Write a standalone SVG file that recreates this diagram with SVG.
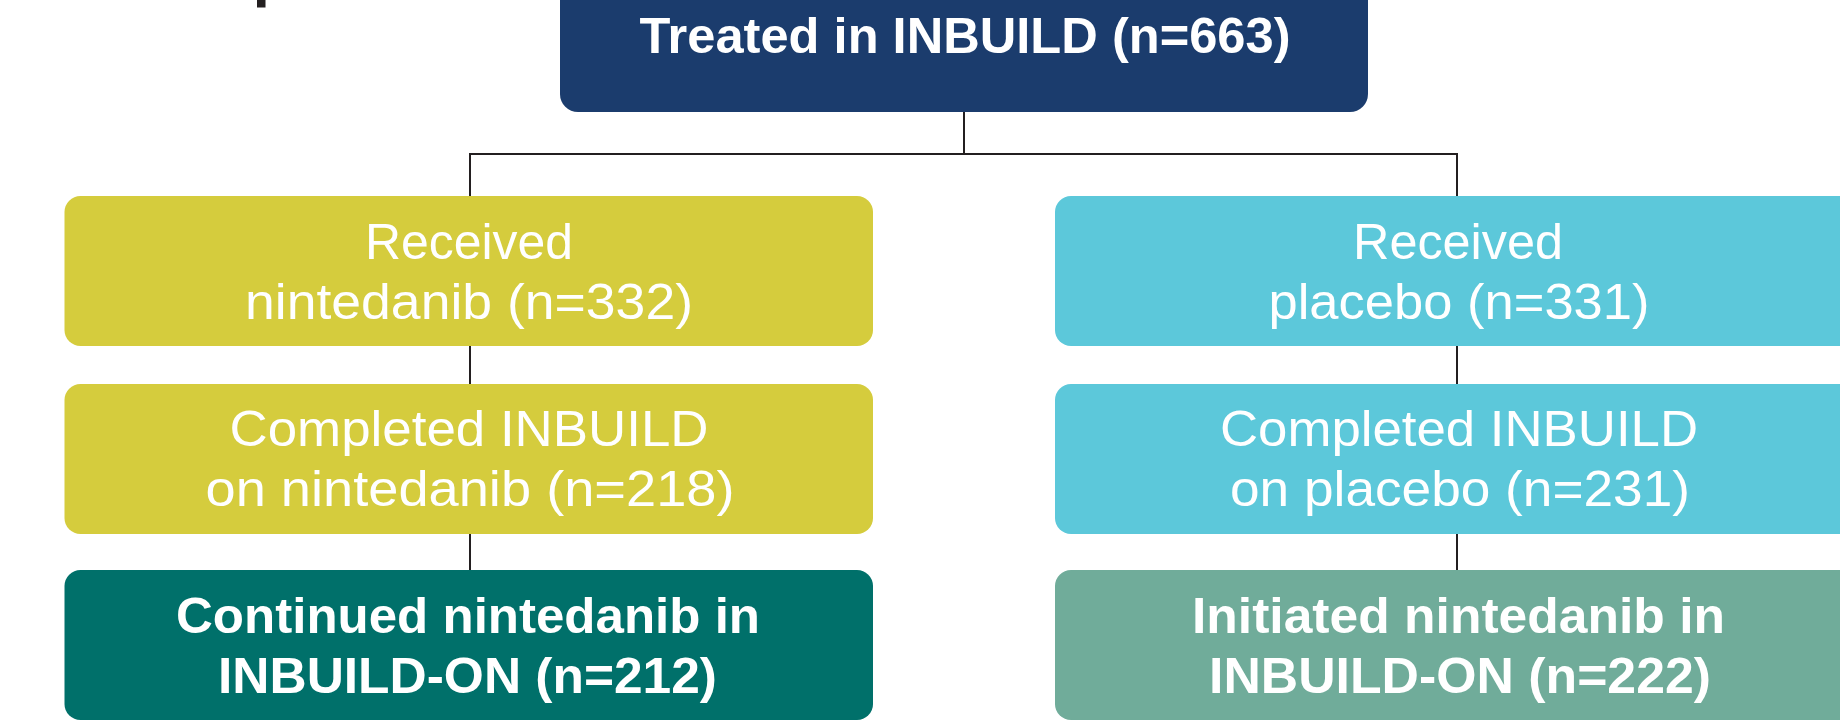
<svg xmlns="http://www.w3.org/2000/svg" width="1840" height="724" viewBox="0 0 1840 724">
<style>
.box{stroke:none}
.t{font-family:"Liberation Sans",Arial,sans-serif;font-size:50px;fill:#ffffff;text-anchor:middle}
.b{font-weight:bold}
.conn{stroke:#231f20;stroke-width:2;fill:none}
</style>
<rect width="1840" height="724" fill="#ffffff"/>
<rect x="257" y="0" width="8.5" height="7.5" fill="#231f20"/>
<g id="connectors">
<path class="conn" d="M964 112 V154 M470 196 V154 H1457 V196"/>
<path class="conn" d="M470 346 V384 M470 534 V570"/>
<path class="conn" d="M1457 346 V384 M1457 534 V570"/>
</g>
<g id="treated">
<rect class="box" x="560" y="-40" width="808" height="152" rx="18" fill="#1b3c6d"/>
<text class="t b" x="965" y="53" font-size="55" textLength="651" lengthAdjust="spacingAndGlyphs">Treated in INBUILD (n=663)</text>
</g>
<g id="received-nintedanib">
<rect class="box" x="64.5" y="196" width="808.5" height="150" rx="16" fill="#d5cc3d"/>
<text class="t" x="469" y="259" textLength="208" lengthAdjust="spacingAndGlyphs">Received</text>
<text class="t" x="469" y="319" textLength="448" lengthAdjust="spacingAndGlyphs">nintedanib (n=332)</text>
</g>
<g id="completed-nintedanib">
<rect class="box" x="64.5" y="384" width="808.5" height="150" rx="16" fill="#d5cc3d"/>
<text class="t" x="469" y="446" textLength="479" lengthAdjust="spacingAndGlyphs">Completed INBUILD</text>
<text class="t" x="470" y="506" textLength="529" lengthAdjust="spacingAndGlyphs">on nintedanib (n=218)</text>
</g>
<g id="continued-nintedanib">
<rect class="box" x="64.5" y="570" width="808.5" height="150" rx="16" fill="#00706a"/>
<text class="t b" x="468" y="633" textLength="584" lengthAdjust="spacingAndGlyphs">Continued nintedanib in</text>
<text class="t b" x="467.5" y="693" textLength="499" lengthAdjust="spacingAndGlyphs">INBUILD-ON (n=212)</text>
</g>
<g id="received-placebo">
<rect class="box" x="1055" y="196" width="808" height="150" rx="16" fill="#5cc8da"/>
<text class="t" x="1458" y="259" textLength="210" lengthAdjust="spacingAndGlyphs">Received</text>
<text class="t" x="1459" y="319" textLength="381" lengthAdjust="spacingAndGlyphs">placebo (n=331)</text>
</g>
<g id="completed-placebo">
<rect class="box" x="1055" y="384" width="808" height="150" rx="16" fill="#5cc8da"/>
<text class="t" x="1459" y="446" textLength="478" lengthAdjust="spacingAndGlyphs">Completed INBUILD</text>
<text class="t" x="1460" y="506" textLength="460" lengthAdjust="spacingAndGlyphs">on placebo (n=231)</text>
</g>
<g id="initiated-nintedanib">
<rect class="box" x="1055" y="570" width="808" height="150" rx="16" fill="#70ac9a"/>
<text class="t b" x="1458.5" y="633" textLength="533" lengthAdjust="spacingAndGlyphs">Initiated nintedanib in</text>
<text class="t b" x="1460" y="693" textLength="502" lengthAdjust="spacingAndGlyphs">INBUILD-ON (n=222)</text>
</g>
</svg>
